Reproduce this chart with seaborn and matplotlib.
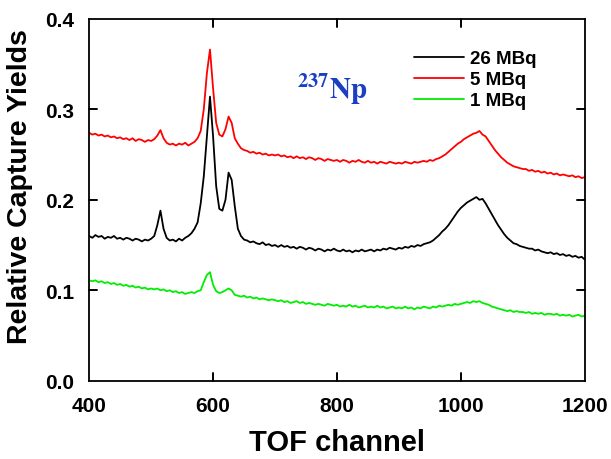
import numpy as np
import pandas as pd
import matplotlib
matplotlib.use("Agg")
import matplotlib.pyplot as plt
import seaborn as sns

# TOF channels (every 5 channels)
channel = list(range(400, 1205, 5))

y_26MBq = [
    0.160, 0.158, 0.161, 0.159, 0.160, 0.157, 0.159, 0.158, 0.160, 0.157,
    0.158, 0.156, 0.158, 0.157, 0.155, 0.157, 0.156, 0.154, 0.156, 0.155,
    0.157, 0.160, 0.172, 0.188, 0.168, 0.158, 0.155, 0.156, 0.154, 0.157,
    0.155, 0.158, 0.160, 0.163, 0.168, 0.175, 0.196, 0.226, 0.270, 0.314,
    0.270, 0.215, 0.190, 0.188, 0.200, 0.230, 0.222, 0.193, 0.168, 0.160,
    0.156, 0.155, 0.153, 0.154, 0.152, 0.151, 0.153, 0.150, 0.151, 0.149,
    0.150, 0.148, 0.150, 0.148, 0.149, 0.147, 0.148, 0.146, 0.148, 0.147,
    0.145, 0.147, 0.146, 0.144, 0.146, 0.145, 0.143, 0.145, 0.144, 0.146,
    0.144, 0.143, 0.145, 0.143, 0.144, 0.142, 0.144, 0.143, 0.145, 0.143,
    0.144, 0.145, 0.143, 0.145, 0.144, 0.146, 0.145, 0.147, 0.146, 0.145,
    0.147, 0.146, 0.148, 0.147, 0.149, 0.148, 0.150, 0.149, 0.151, 0.152,
    0.153, 0.155, 0.158, 0.161, 0.165, 0.168, 0.172, 0.177, 0.182, 0.187,
    0.191, 0.194, 0.197, 0.199, 0.201, 0.203, 0.200, 0.201, 0.196, 0.190,
    0.184, 0.178, 0.172, 0.167, 0.162, 0.158, 0.155, 0.152, 0.151, 0.149,
    0.148, 0.147, 0.146, 0.146, 0.144, 0.145, 0.143, 0.142, 0.141, 0.142,
    0.140, 0.141, 0.139, 0.140, 0.138, 0.139, 0.137, 0.138, 0.136, 0.137,
    0.134,
]

y_5MBq = [
    0.274, 0.272, 0.273, 0.271, 0.272, 0.270, 0.271, 0.269, 0.270, 0.268,
    0.269, 0.267, 0.268, 0.266, 0.268, 0.265, 0.267, 0.266, 0.264, 0.266,
    0.265, 0.267, 0.271, 0.277, 0.268, 0.263, 0.261, 0.262, 0.260, 0.262,
    0.261, 0.263, 0.260, 0.262, 0.264, 0.268, 0.276, 0.300, 0.340, 0.366,
    0.323, 0.285, 0.272, 0.270, 0.278, 0.292, 0.285, 0.268, 0.262, 0.257,
    0.255, 0.254, 0.252, 0.253, 0.251, 0.252, 0.250, 0.251, 0.249, 0.250,
    0.249, 0.250, 0.248, 0.249, 0.247, 0.248, 0.246, 0.248, 0.246, 0.247,
    0.245, 0.247, 0.246, 0.244, 0.246, 0.245, 0.243, 0.245, 0.244, 0.243,
    0.244, 0.242, 0.244, 0.243, 0.241, 0.243, 0.242, 0.244, 0.242, 0.241,
    0.243, 0.241, 0.242, 0.240, 0.242, 0.241, 0.240, 0.242, 0.241, 0.240,
    0.241, 0.240, 0.242, 0.241, 0.240, 0.242, 0.241, 0.242, 0.243, 0.242,
    0.244, 0.243, 0.245, 0.246, 0.248, 0.250, 0.253, 0.256, 0.259, 0.262,
    0.264, 0.267, 0.269, 0.271, 0.273, 0.274, 0.276, 0.272, 0.270, 0.265,
    0.260, 0.255, 0.251, 0.247, 0.244, 0.241, 0.239, 0.237, 0.236, 0.235,
    0.234, 0.234, 0.232, 0.233, 0.231, 0.232, 0.230, 0.231, 0.229, 0.230,
    0.228, 0.229, 0.227, 0.228, 0.227, 0.226, 0.227, 0.225, 0.226, 0.224,
    0.225,
]

y_1MBq = [
    0.111, 0.110, 0.111, 0.109, 0.110, 0.108, 0.109, 0.107, 0.108, 0.106,
    0.107, 0.105, 0.106, 0.104, 0.105, 0.103, 0.104, 0.102, 0.103, 0.101,
    0.102, 0.101, 0.102, 0.100, 0.101, 0.099, 0.100, 0.098, 0.099, 0.097,
    0.098, 0.096, 0.097, 0.098, 0.097, 0.099, 0.100, 0.109, 0.117, 0.120,
    0.106, 0.099, 0.097, 0.098, 0.100, 0.102, 0.100, 0.095, 0.094, 0.093,
    0.094, 0.092, 0.093, 0.091, 0.092, 0.090, 0.091, 0.090, 0.089, 0.090,
    0.089, 0.088, 0.089, 0.087, 0.088, 0.086, 0.087, 0.088, 0.086, 0.087,
    0.085, 0.086, 0.085, 0.084, 0.085, 0.084, 0.083, 0.085, 0.084, 0.083,
    0.084, 0.082, 0.083, 0.082, 0.084, 0.082, 0.083, 0.081, 0.082, 0.083,
    0.081, 0.082, 0.081, 0.083, 0.081, 0.082, 0.080, 0.081, 0.082, 0.080,
    0.081, 0.080, 0.082, 0.080, 0.081, 0.079, 0.081, 0.080, 0.082, 0.081,
    0.080, 0.082, 0.081, 0.083, 0.082, 0.083, 0.084, 0.083, 0.085, 0.084,
    0.085, 0.086, 0.087, 0.086, 0.088, 0.087, 0.088, 0.086, 0.085, 0.084,
    0.082, 0.081, 0.080, 0.079, 0.078, 0.077, 0.078, 0.076, 0.077, 0.076,
    0.076, 0.075, 0.076, 0.074, 0.075, 0.074, 0.075, 0.073, 0.074, 0.074,
    0.073, 0.074, 0.072, 0.073, 0.072, 0.073, 0.071, 0.072, 0.073, 0.071,
    0.072,
]

labels = ["26 MBq", "5 MBq", "1 MBq"]
colors = ["black", "#ff0000", "#00ee00"]
x_ticks = [400, 600, 800, 1000, 1200]
y_ticks = [0.0, 0.1, 0.2, 0.3, 0.4]
y_ticklabels = ["0.0", "0.1", "0.2", "0.3", "0.4"]

df = pd.concat([
    pd.DataFrame({"channel": channel, "yield": y_26MBq, "source": labels[0]}),
    pd.DataFrame({"channel": channel, "yield": y_5MBq, "source": labels[1]}),
    pd.DataFrame({"channel": channel, "yield": y_1MBq, "source": labels[2]}),
])

sns.set_style("ticks")
plt.rcParams.update({
    "font.family": ["Liberation Sans", "DejaVu Sans"],
    "font.weight": "bold",
    "mathtext.fontset": "stix",
    "text.color": "black",
    "axes.labelcolor": "black",
    "axes.edgecolor": "black",
    "axes.linewidth": 1.3,
    "xtick.color": "black",
    "ytick.color": "black",
})

fig, ax = plt.subplots(figsize=(6.11, 4.6), dpi=100)
fig.subplots_adjust(left=0.146, right=0.957, top=0.957, bottom=0.17)

sns.lineplot(data=df, x="channel", y="yield", hue="source", hue_order=labels,
             palette=colors, linewidth=1.3, ax=ax)

# inward tick marks on all four sides
xt = ax.get_xaxis_transform()
yt = ax.get_yaxis_transform()
for t in x_ticks[1:-1]:
    ax.plot([t, t], [0, 0.022], transform=xt, color="black", lw=1.4, clip_on=False)
    ax.plot([t, t], [1, 0.978], transform=xt, color="black", lw=1.4, clip_on=False)
for t in y_ticks[1:-1]:
    ax.plot([0, 0.016], [t, t], transform=yt, color="black", lw=1.4, clip_on=False)
    ax.plot([1, 0.984], [t, t], transform=yt, color="black", lw=1.4, clip_on=False)

ax.set_xlim(400, 1200)
ax.set_ylim(0, 0.4)
ax.set_xticks(x_ticks)
ax.set_yticks(y_ticks)
ax.set_yticklabels(y_ticklabels)
ax.tick_params(length=0, labelsize=15, pad=11)
for lab in ax.get_xticklabels() + ax.get_yticklabels():
    lab.set_fontweight("bold")
for sp in ax.spines.values():
    sp.set_visible(True)
    sp.set_linewidth(1.3)
    sp.set_color("black")

ax.set_xlabel("TOF channel", fontsize=21, fontweight="bold", labelpad=9)
ax.set_ylabel("Relative Capture Yields", fontsize=20.5, fontweight="bold")
ax.yaxis.set_label_coords(-0.113, 0.54)

ax.legend(loc="upper left", bbox_to_anchor=(0.655, 0.913), frameon=False,
          prop={"weight": "bold", "size": 13.5}, handlelength=2.7,
          handletextpad=0.3, labelspacing=0.2, borderpad=0, borderaxespad=0)

ax.text(0.42, 0.78, r"$\mathbf{^{237}Np}$", transform=ax.transAxes,
        color="#1a3fc4", fontsize=21, va="baseline")

fig.savefig("out.png", dpi=100)
